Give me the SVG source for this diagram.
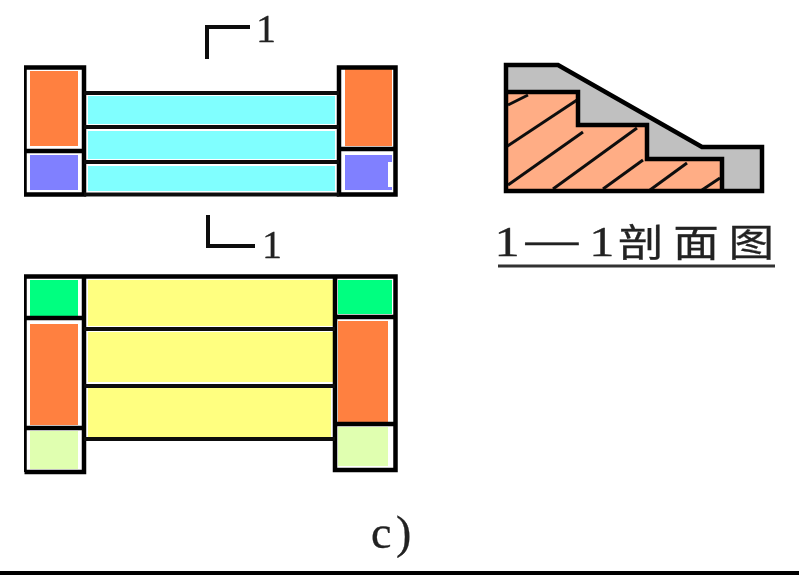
<svg xmlns="http://www.w3.org/2000/svg" width="799" height="575" viewBox="0 0 799 575">
<style>
.o{fill:none;stroke:#000;stroke-width:4.5}
.l{fill:none;stroke:#111;stroke-width:4}
.h{fill:none;stroke:#111;stroke-width:3}
.t{font-family:"Liberation Serif","Noto Sans CJK SC",serif;fill:#222;stroke:#222;stroke-width:.3}
.or{fill:#ff8040}.bl{fill:#8080ff}.cy{fill:#80ffff}.ye{fill:#ffff80}.gr{fill:#00ff80}.pa{fill:#e0ffb0}
</style>
<defs><filter id="soft" x="0" y="0" width="1" height="1"><feGaussianBlur stdDeviation="0.55"/></filter></defs>
<rect width="799" height="575" fill="#fff"/>
<g filter="url(#soft)">
<g id="plan-upper">
<rect class="or" x="30" y="71" width="48" height="75"/>
<rect class="bl" x="30" y="155" width="48" height="35"/>
<rect class="or" x="345" y="69" width="47" height="77"/>
<rect class="bl" x="345" y="155" width="47" height="35"/>
<rect x="388" y="162" width="4" height="25" fill="#fff"/>
<rect class="cy" x="88" y="96" width="247" height="28"/>
<rect class="cy" x="88" y="131" width="247" height="28"/>
<rect class="cy" x="88" y="166" width="247" height="25"/>
<path class="o" d="M24.500 194.500V67.500H84V194.500ZM24.500 151H84M339 194.500V67.500H395.500V194.500ZM339 149H395.500"/>
<path class="l" d="M84 93H339M84 127H339M84 162H339M84 194.500H339"/>
</g>
<g id="plan-lower">
<rect class="ye" x="88" y="280" width="247" height="46"/>
<rect class="ye" x="88" y="332" width="247" height="50"/>
<rect class="ye" x="88" y="388" width="243" height="49"/>
<rect class="gr" x="30" y="280" width="48" height="36"/>
<rect class="or" x="30" y="324" width="48" height="101"/>
<rect class="pa" x="30" y="431" width="48" height="38"/>
<rect class="gr" x="338" y="280" width="54" height="34"/>
<rect class="or" x="338" y="321" width="50" height="101"/>
<rect class="pa" x="338" y="427" width="50" height="39"/>
<path class="o" d="M24.500 472V276.500H395.500V470H335V276.500M84 276.500V472H24.500M24.500 318H84M24.500 428H84M335 317H395.500M335 424H395.500"/>
<path class="l" d="M84 329H335M84 386H335M84 439H335"/>
</g>
<g id="section">
<path fill="#c0c0c0" d="M506 65H558L702 147H762V191H506Z"/>
<path fill="#ffad85" d="M506 92H578V125H647V159H722V191H506Z"/>
<path class="h" d="M508 105L528 95M506 147L577 100M508 185L583 132M553 189L637 128M603 189L643 160M650 190L687 163M702 190L720 178"/>
<path class="o" d="M506 65H558L702 147H762V191H506Z"/>
<path class="o" d="M506 92H578V125H647V159H722V191"/>
</g>
<g id="section-label">
<text class="t" font-size="38" y="256" transform="scale(1.2 1)"><tspan x="412" font-size="42">1</tspan><tspan x="438" font-size="44" dy="-2">—</tspan><tspan x="491" font-size="42" dy="2">1</tspan><tspan x="515">剖</tspan><tspan x="561">面</tspan><tspan x="607">图</tspan></text>
<path d="M498 266H775" fill="none" stroke="#333" stroke-width="3"/>
</g>
<g id="cut-mark-top">
<path class="l" d="M207 59V27H250"/>
<text class="t" font-size="40" x="256" y="42">1</text>
</g>
<g id="cut-mark-bottom">
<path class="l" d="M208 215V246H255"/>
<text class="t" font-size="40" x="262" y="258">1</text>
</g>
<g id="caption">
<text class="t" font-size="46" y="548"><tspan x="371">c</tspan><tspan x="396">)</tspan></text>
</g>
</g>
<rect id="bottom-rule" x="0" y="571" width="799" height="4" fill="#000"/>
</svg>
